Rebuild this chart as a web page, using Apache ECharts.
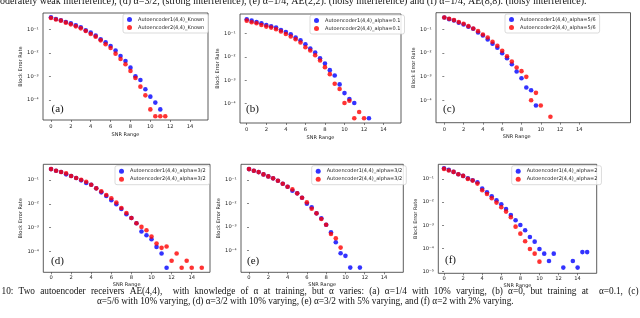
<!DOCTYPE html>
<html><head><meta charset="utf-8">
<script src="https://cdn.jsdelivr.net/npm/echarts@6/dist/echarts.min.js"></script>
<style>html,body{margin:0;padding:0;background:#fff}#c{width:640px;height:318px}</style>
</head><body><div id="c"></div>
<script>
// ---------- data ----------
const snrTicks = [0, 2, 4, 6, 8, 10, 12, 14];
const yTicks4 = [1e-4, 1e-3, 1e-2, 1e-1];
const yTicks5 = [1e-5, 1e-4, 1e-3, 1e-2, 1e-1];
const panelLabels = ['(a)', '(b)', '(c)', '(d)', '(e)', '(f)'];
const xAxisTitle = 'SNR Range';
const yAxisTitle = 'Block Error Rate';

const aNames = ['Autoencoder1(4,4)_Known', 'Autoencoder2(4,4)_Known'];
const aBlueSnr = [0,0.5,1,1.5,2,2.5,3,3.5,4,4.5,5,5.5,6,6.5,7,7.5,8,8.5,9,9.5,10,10.5,11];
const aBlue = [0.324,0.275,0.242,0.205,0.180,0.148,0.122,0.0906,0.0722,0.0537,0.0375,0.0280,0.0195,0.0124,0.00733,0.00449,0.00234,0.00100,0.000698,0.000280,0.000136,7.6e-5,3.9e-5];
const aRedSnr = [0,0.5,1,1.5,2,2.5,3,3.5,4,4.5,5,5.5,6,6.5,7,7.5,8,8.5,9,9.5,10,10.5,11,11.5];
const aRed = [0.303,0.262,0.234,0.192,0.163,0.134,0.110,0.0849,0.0633,0.0487,0.0340,0.0230,0.0161,0.00922,0.00547,0.00324,0.00169,0.000849,0.000363,0.000155,3.9e-5,2e-5,2e-5,2e-5];

const bNames = ['Autoencoder1(4,4)_alpha=0.1', 'Autoencoder2(4,4)_alpha=0.1'];
const bBlueSnr = [0,0.5,1,1.5,2,2.5,3,3.5,4,4.5,5,5.5,6,6.5,7,7.5,8,8.5,9,9.5,10,10.5,11,12.5];
const bBlue = [0.393,0.344,0.303,0.266,0.226,0.198,0.174,0.138,0.114,0.0907,0.0655,0.0504,0.0341,0.0223,0.0151,0.00869,0.00516,0.00269,0.00160,0.000664,0.000284,0.000158,0.000107,2.4e-5];
const bRedSnr = [0,0.5,1,1.5,2,2.5,3,3.5,4,4.5,5,5.5,6,6.5,7,7.5,8,8.5,9,9.5,10,10.5,11,11.5,12];
const bRed = [0.344,0.293,0.266,0.226,0.192,0.174,0.148,0.118,0.0937,0.0723,0.0556,0.0402,0.0255,0.0184,0.0116,0.00692,0.00361,0.00182,0.000708,0.000421,0.000107,0.000134,2.4e-5,4.45e-5,2.4e-5];

const cNames = ['Autoencoder1(4,4)_alpha=5/6', 'Autoencoder2(4,4)_alpha=5/6'];
const cBlueSnr = [0,0.5,1,1.5,2,2.5,3,3.5,4,4.5,5,5.5,6,6.5,7,7.5,8,8.5,9,9.5];
const cBlue = [0.323,0.274,0.241,0.192,0.163,0.130,0.107,0.0746,0.0556,0.0377,0.0247,0.0167,0.00991,0.00608,0.00338,0.00165,0.000861,0.000346,0.000267,6e-5];
const cRedSnr = [0,0.5,1,1.5,2,2.5,3,3.5,4,4.5,5,5.5,6,6.5,7,7.5,8,8.5,9,9.5,10,11];
const cRed = [0.323,0.284,0.249,0.205,0.174,0.138,0.110,0.0849,0.0614,0.0458,0.0300,0.0203,0.0124,0.00738,0.00439,0.00244,0.00171,0.000982,0.000100,0.000206,6e-5,2e-5];

const dNames = ['Autoencoder1(4,4)_alpha=3/2', 'Autoencoder2(4,4)_alpha=3/2'];
const dBlueSnr = [0,0.5,1,1.5,2,2.5,3,3.5,4,4.5,5,5.5,6,6.5,7,7.5,8,8.5,9,9.5,10,10.5,11,11.5];
const dBlue = [0.288,0.246,0.216,0.173,0.147,0.121,0.0969,0.0748,0.0638,0.0448,0.0305,0.0214,0.0141,0.0096,0.00612,0.00366,0.00257,0.00154,0.000689,0.000484,0.000329,0.000157,8.3e-5,2.1e-5];
const dRedSnr = [0,0.5,1,1.5,2,2.5,3,3.5,4,4.5,5,5.5,6,6.5,7,7.5,8,8.5,9,9.5,10,10.5,11,11.5,12,12.5,13,13.5,14,15];
const dRed = [0.288,0.246,0.216,0.190,0.147,0.121,0.103,0.0851,0.0638,0.0448,0.0336,0.0236,0.0171,0.0113,0.00674,0.00416,0.00257,0.00154,0.00108,0.000783,0.000425,0.000217,0.000143,0.000162,4.1e-5,8.3e-5,2.1e-5,4.1e-5,2.1e-5,2.1e-5];

const eNames = ['Autoencoder1(4,4)_alpha=3/2', 'Autoencoder2(4,4)_alpha=3/2'];
const eBlueSnr = [0,0.5,1,1.5,2,2.5,3,3.5,4,4.5,5,5.5,6,6.5,7,7.5,8,8.5,9,9.5,10,10.5,11.5];
const eBlue = [0.293,0.249,0.218,0.174,0.143,0.118,0.0937,0.0699,0.0521,0.0352,0.0272,0.0178,0.0099,0.00692,0.00385,0.00236,0.00127,0.000601,0.000226,7.7e-5,6e-5,1.9e-5,1.9e-5];
const eRedSnr = [0,0.5,1,1.5,2,2.5,3,3.5,4,4.5,5,5.5,6,6.5,7,7.5,8,8.5,9,9.5];
const eRed = [0.293,0.249,0.218,0.174,0.143,0.118,0.0937,0.0699,0.0521,0.0402,0.0272,0.0178,0.0113,0.00608,0.00385,0.00221,0.00127,0.000511,0.000335,0.000135];

const fNames = ['Autoencoder1(4,4)_alpha=2', 'Autoencoder2(4,4)_alpha=2'];
const fBlueSnr = [0,0.5,1,1.5,2,2.5,3,3.5,4,4.5,5,5.5,6,6.5,7,7.5,8,8.5,9,9.5,10,10.5,11,11.5,12.5,13.5,14,14.5,15];
const fBlue = [0.288,0.245,0.201,0.159,0.135,0.107,0.0876,0.0718,0.0383,0.0266,0.0179,0.0120,0.00805,0.00507,0.00279,0.00164,0.00103,0.000608,0.000313,0.000197,9.5e-5,6e-5,2.9e-5,6e-5,1.5e-5,2.9e-5,1.5e-5,7e-5,7e-5];
const fRedSnr = [0,0.5,1,1.5,2,2.5,3,3.5,4,4.5,5,5.5,6,6.5,7,7.5,8,8.5,9,9.5,10];
const fRed = [0.270,0.229,0.201,0.159,0.135,0.100,0.0847,0.0629,0.0324,0.0225,0.0146,0.00951,0.00598,0.00389,0.00221,0.000875,0.000437,0.000204,9.5e-5,6e-5,2.7e-5];

const captionTop = 'oderately weak interference), (d) \u03b1=3/2, (strong interference), (e) \u03b1=1/4, AE(2,2). (noisy interference) and (f) \u03b1=1/4, AE(8,8). (noisy interference).';
const captionLine1 = '10: Two autoencoder receivers AE(4,4),  with knowledge of \u03b1 at training, but \u03b1 varies: (a) \u03b1=1/4 with 10% varying, (b) \u03b1=0, but training at  \u03b1=0.1, (c)';
const captionLine2 = '\u03b1=5/6 with 10% varying, (d) \u03b1=3/2 with 10% varying, (e) \u03b1=3/2 with 5% varying, and (f) \u03b1=2 with 2% varying.';

// ---------- layout ----------
const panels = [
  {names:aNames, bs:aBlueSnr, bv:aBlue, rs:aRedSnr, rv:aRed, grid:[43,13,165,107], x:[-0.8,15.8], y:[-4.86,-0.305], yt:yTicks4, leg:[123,14], lab:[51.5,104], xnPad:0, row:0},
  {names:bNames, bs:bBlueSnr, bv:bBlue, rs:bRedSnr, rv:bRed, grid:[240,14,161,109], x:[-0.69,15.78], y:[-4.82,-0.18], yt:yTicks4, leg:[310,15], lab:[246,104], xnPad:0, row:0},
  {names:cNames, bs:cBlueSnr, bv:cBlue, rs:cRedSnr, rv:cRed, grid:[436,12.7,194.5,110], x:[-0.86,19.3], y:[-4.95,-0.29], yt:yTicks4, leg:[505,14], lab:[443,104], xnPad:33, row:0},
  {names:dNames, bs:dBlueSnr, bv:dBlue, rs:dRedSnr, rv:dRed, grid:[43.3,164.3,166.7,108], x:[-0.77,15.82], y:[-4.87,-0.34], yt:yTicks4, leg:[115,165.7], lab:[51,256], xnPad:0, row:1},
  {names:eNames, bs:eBlueSnr, bv:eBlue, rs:eRedSnr, rv:eRed, grid:[241,164.3,162.3,108], x:[-0.83,16.0], y:[-4.92,-0.33], yt:yTicks4, leg:[311.7,165.7], lab:[247,256], xnPad:0, row:1},
  {names:fNames, bs:fBlueSnr, bv:fBlue, rs:fRedSnr, rv:fRed, grid:[438.3,164.3,158.4,109], x:[-0.6,16.0], y:[-5.07,-0.37], yt:yTicks5, leg:[511.7,165.7], lab:[445,255], xnPad:0, row:1}
];
const rowNameGap = [12, 9.5];
const rowLabelMargin = [4, 3];

const sup = {'-':'\u207b','0':'\u2070','1':'\u00b9','2':'\u00b2','3':'\u00b3','4':'\u2074','5':'\u2075'};
function logLabel(v){
  const e = String(Math.round(Math.log10(v)));
  return '10' + e.split('').map(ch => sup[ch]).join('');
}

const grids = [], xAxes = [], yAxes = [], series = [], legends = [], graphics = [];
const lblFont = {fontSize:5.2, color:'#222', fontFamily:'DejaVu Sans'};
const nameFont = {fontSize:5, color:'#222', fontFamily:'DejaVu Sans'};
panels.forEach((p, i) => {
  grids.push({left:p.grid[0], top:p.grid[1], width:p.grid[2], height:p.grid[3], show:true, borderColor:'#333', borderWidth:0.8, backgroundColor:'#fff', containLabel:false});
  xAxes.push({type:'value', gridIndex:i, min:p.x[0], max:p.x[1],
    name:xAxisTitle, nameLocation:'middle', nameGap:rowNameGap[p.row],
    nameTextStyle:Object.assign({padding:[0, p.xnPad, 0, 0]}, nameFont),
    axisLine:{show:false}, splitLine:{show:false},
    axisTick:{show:true, length:2, lineStyle:{color:'#333', width:0.6}, customValues:snrTicks},
    axisLabel:Object.assign({margin:rowLabelMargin[p.row], customValues:snrTicks}, lblFont)});
  yAxes.push({type:'log', logBase:10, gridIndex:i, min:Math.pow(10,p.y[0]), max:Math.pow(10,p.y[1]),
    name:yAxisTitle, nameLocation:'middle', nameRotate:90, nameGap:18, nameTextStyle:nameFont,
    axisLine:{show:false}, splitLine:{show:false}, minorTick:{show:false},
    axisTick:{show:true, length:2, lineStyle:{color:'#333', width:0.6}, customValues:p.yt},
    axisLabel:Object.assign({margin:4.5, customValues:p.yt, formatter:logLabel}, lblFont)});
  series.push({type:'scatter', name:p.names[0], xAxisIndex:i, yAxisIndex:i, symbol:'circle', symbolSize:4.6,
    itemStyle:{color:'#0000ff'}, data:p.bs.map((s,k)=>[s, p.bv[k]]), z:2});
  series.push({type:'scatter', name:p.names[1], xAxisIndex:i, yAxisIndex:i, symbol:'circle', symbolSize:4.6,
    itemStyle:{color:'#ff0000'}, data:p.rs.map((s,k)=>[s, p.rv[k]]), z:3});
  legends.push({left:p.leg[0], top:p.leg[1], orient:'vertical', data:p.names, icon:'circle', itemWidth:5, itemHeight:5, itemGap:3,
    padding:[3,4,3,4], borderColor:'#ccc', borderWidth:0.7, borderRadius:2, backgroundColor:'rgba(255,255,255,0.85)',
    textStyle:{fontSize:5, color:'#222', fontFamily:'DejaVu Sans', padding:[0,0,0,1]}, selectedMode:false});
  graphics.push({type:'text', left:p.lab[0], top:p.lab[1], z:100, style:{text:panelLabels[i], font:'11px "Liberation Serif"', fill:'#111'}});
});

// caption text (serif); line 1 is justified like the source
const capFill = '#111';
function plainLine(text, size, x, baseline){
  return {type:'text', x:x, y:baseline - 0.284*size, z:100,
    style:{text:text, font:size + 'px "Liberation Serif"', fill:capFill, verticalAlign:'middle', align:'left'}};
}
function justifiedLine(text, size, x0, x1, baseline){
  const font = size + 'px "Liberation Serif"';
  const ctx = document.createElement('canvas').getContext('2d');
  ctx.font = font;
  const words = text.split(' ');
  const widths = words.map(w => ctx.measureText(w).width);
  const total = widths.reduce((a, b) => a + b, 0);
  const gap = (x1 - x0 - total) / (words.length - 1);
  const out = [];
  let x = x0;
  words.forEach((w, k) => {
    if (w) out.push({type:'text', x:x, y:baseline - 0.284*size, z:100,
      style:{text:w, font:font, fill:capFill, verticalAlign:'middle', align:'left'}});
    x += widths[k] + gap;
  });
  return out;
}
graphics.push(plainLine(captionTop, 10, 0, 4.2));
justifiedLine(captionLine1, 9.3, 1.5, 638.5, 294.5).forEach(g => graphics.push(g));
graphics.push(plainLine(captionLine2, 9.3, 97, 304.4));

const chart = echarts.init(document.getElementById('c'), null, {renderer:'canvas'});
chart.setOption({animation:false, backgroundColor:'#fff', grid:grids, xAxis:xAxes, yAxis:yAxes, series:series, legend:legends, graphic:graphics});
</script></body></html>
